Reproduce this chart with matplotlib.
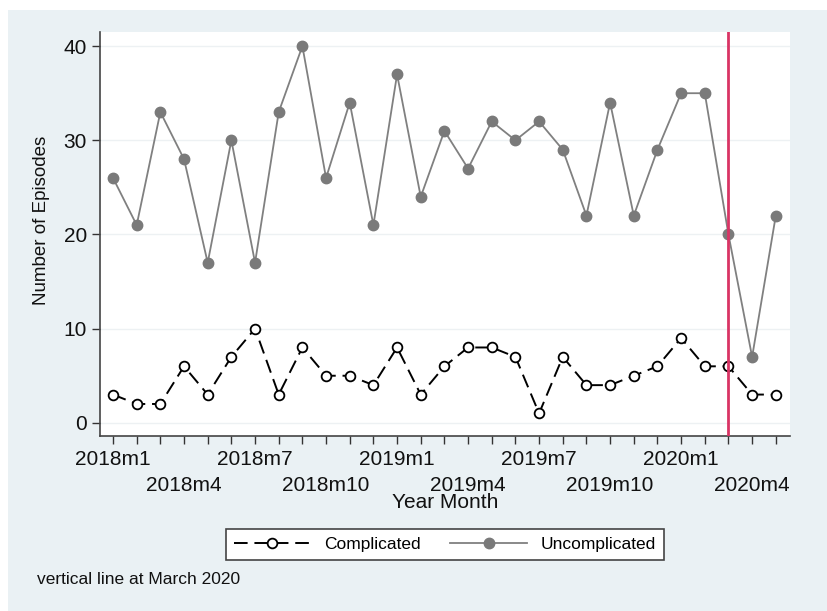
import matplotlib.pyplot as plt
from matplotlib.patches import Rectangle
from matplotlib.lines import Line2D

plt.rcParams['font.family'] = ['Liberation Sans', 'DejaVu Sans']

# Monthly episode counts, 2018m1 .. 2020m5
months = [f"{y}m{m}" for y in (2018, 2019, 2020) for m in range(1, 13)][:29]
complicated = [3, 2, 2, 6, 3, 7, 10, 3, 8, 5, 5, 4, 8, 3, 6, 8, 8, 7, 1, 7,
               4, 4, 5, 6, 9, 6, 6, 3, 3]
uncomplicated = [26, 21, 33, 28, 17, 30, 17, 33, 40, 26, 34, 21, 37, 24, 31, 27,
                 32, 30, 32, 29, 22, 34, 22, 29, 35, 35, 20, 7, 22]
vline_month = "2020m3"
y_ticks = [0, 10, 20, 30, 40]

bg = '#eaf1f4'
x = list(range(len(months)))

fig = plt.figure(figsize=(8.28, 6.11), dpi=100)
fig.patch.set_facecolor('white')
# Stata-like outer region, kept behind the axes
fig.patches.append(Rectangle((8 / 828, 0), 1 - 8 / 828, 1 - 10 / 611,
                             transform=fig.transFigure, facecolor=bg,
                             edgecolor='none', zorder=-10))

ax = fig.add_axes([100 / 828, 1 - 436 / 611, 690 / 828, 404 / 611])
ax.set_facecolor('white')

ax.plot(x, uncomplicated, color='#808080', lw=1.3, marker='o', ms=7.5,
        mfc='#7a7a7a', mec='#7a7a7a', zorder=3)
ax.plot(x, complicated, color='black', lw=1.4, dashes=(7, 3.5), marker='o',
        ms=7, mfc='white', mec='black', mew=1.3, zorder=4)
ax.axvline(months.index(vline_month), color='#d93465', lw=2, zorder=5)

ax.set_xlim(-0.55, 28.6)
ax.set_ylim(-1.4, 41.5)
ax.set_yticks(y_ticks)
ax.yaxis.grid(True, color='#edf1f3', lw=1)
ax.set_axisbelow(True)

# top row labels on major ticks, staggered second row on minor ticks
major = [i for i in x if i % 6 == 0]
minor = [i for i in x if i % 6 != 0]
ax.set_xticks(major)
ax.set_xticklabels([months[i] for i in major])
ax.set_xticks(minor, minor=True)
ax.set_xticklabels([months[i] if i % 6 == 3 else "" for i in minor], minor=True)

ax.tick_params(axis='both', which='both', direction='out', length=6, width=1,
               color='#333333', labelsize=15, labelcolor='#111111')
ax.tick_params(axis='x', which='major', pad=4)
ax.tick_params(axis='x', which='minor', pad=23)

for s in ('top', 'right'):
    ax.spines[s].set_visible(False)
for s in ('left', 'bottom'):
    ax.spines[s].set_color('#444444')
    ax.spines[s].set_linewidth(1.2)

fig.text(42 / 828, 1 - 220 / 611, "Number of Episodes", fontsize=13.5,
         color='#111111', rotation=90, ha='center', va='center')
fig.text(445 / 828, 1 - 503 / 611, "Year Month", fontsize=15, color='#111111',
         ha='center', va='center')

handles = [
    Line2D([], [], color='black', lw=1.4, dashes=(7, 3.5), marker='o', ms=7,
           mfc='white', mec='black', mew=1.3),
    Line2D([], [], color='#808080', lw=1.3, marker='o', ms=7.5,
           mfc='#7a7a7a', mec='#7a7a7a'),
]
leg = fig.legend(handles, ["Complicated", "Uncomplicated"], ncol=2,
                 loc='center', bbox_to_anchor=(445 / 828, 1 - 544.5 / 611),
                 fontsize=12.5, handlelength=4.4, columnspacing=1.7,
                 fancybox=False, edgecolor='#444444', framealpha=1,
                 borderpad=0.45)
leg.get_frame().set_linewidth(1.2)

fig.text(37 / 828, 1 - 580 / 611, "vertical line at March 2020", fontsize=12.5,
         color='#111111', ha='left', va='center')

fig.savefig("out.png", dpi=100, facecolor=fig.get_facecolor())
